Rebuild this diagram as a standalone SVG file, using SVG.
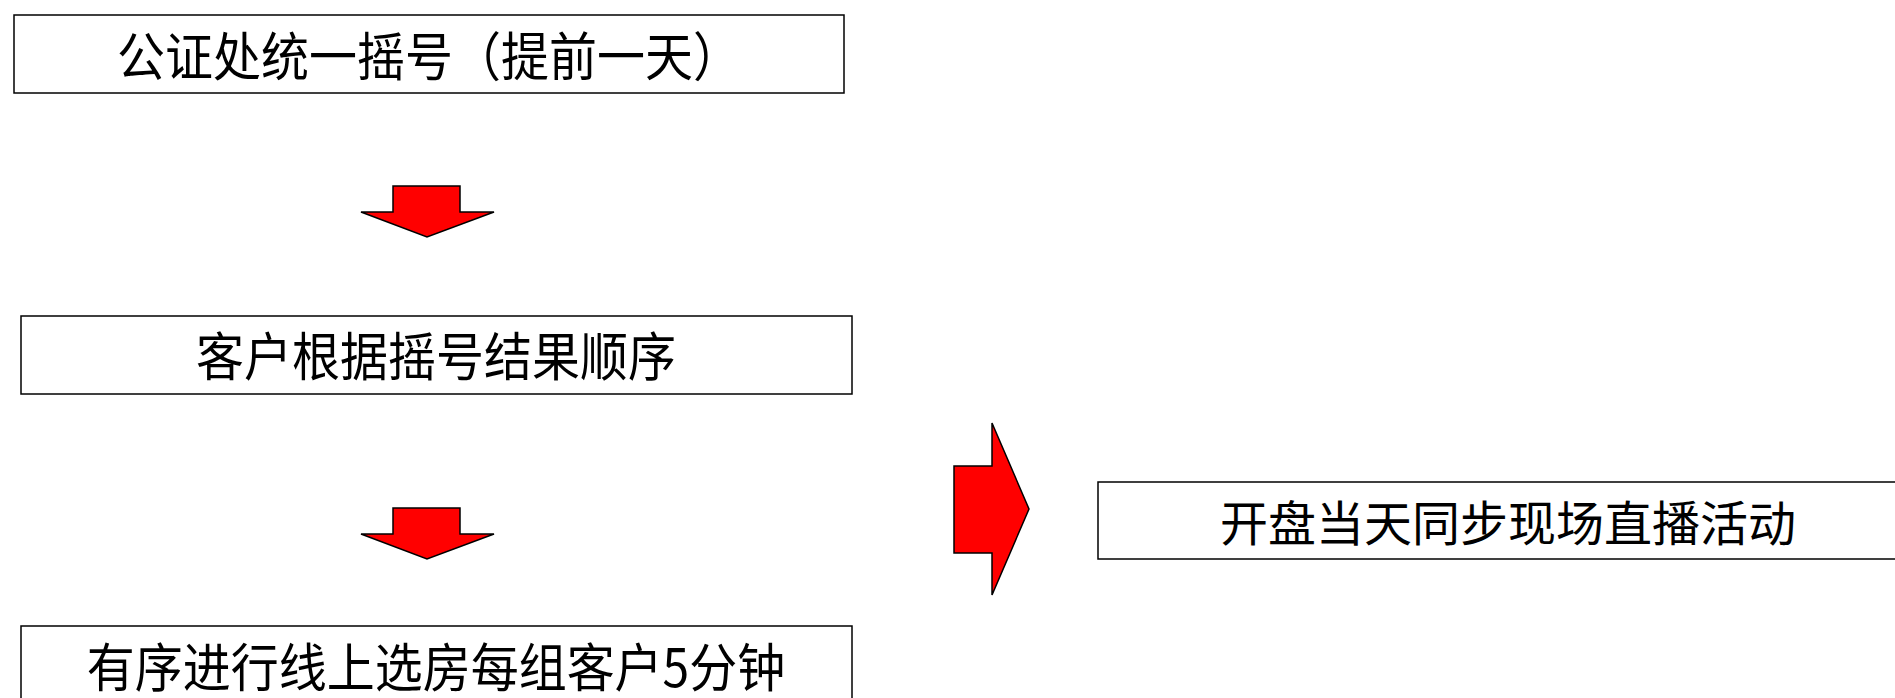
<svg xmlns="http://www.w3.org/2000/svg" width="1895" height="698" viewBox="0 0 1895 698">
<style>
.box{fill:#fff;stroke:#000;stroke-width:1.5}
.lbl{font-family:"Noto Sans CJK SC","Liberation Sans",sans-serif;font-size:48px;fill:#000;text-anchor:middle}
.arr{fill:#ff0000;stroke:#000;stroke-width:1.5;stroke-linejoin:miter}
</style>
<rect width="1895" height="698" fill="#fff"/>
<g id="node1"><rect class="box" x="14" y="15" width="830" height="78"/><text class="lbl" transform="translate(429,76) scale(1,1.1)">公证处统一摇号（提前一天）</text></g>
<g id="node2"><rect class="box" x="21" y="316" width="831" height="78"/><text class="lbl" transform="translate(436,376) scale(1,1.1)">客户根据摇号结果顺序</text></g>
<g id="node3"><rect class="box" x="21" y="626" width="831" height="90"/><text class="lbl" transform="translate(436,687) scale(1,1.1)">有序进行线上选房每组客户5分钟</text></g>
<g id="node4"><rect class="box" x="1098" y="482" width="830" height="77"/><text class="lbl" x="1508" y="541">开盘当天同步现场直播活动</text></g>
<g id="connectors">
<polygon class="arr" points="393,186 460,186 460,212 494,212 427,237 361,212 393,212"/>
<polygon class="arr" points="393,508 460,508 460,534 494,534 427,559 361,534 393,534"/>
<polygon class="arr" points="954,466 992,466 992,423 1029,509 992,595 992,553 954,553"/>
</g>
</svg>
